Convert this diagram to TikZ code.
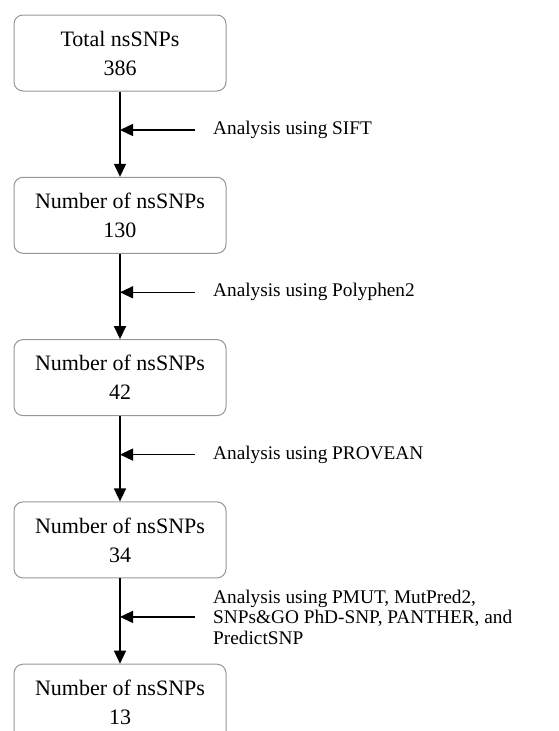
\documentclass[tikz,border=0pt]{standalone}
\usepackage{fontspec}
\setmainfont{Liberation Serif}
\usetikzlibrary{arrows.meta}
\definecolor{boxgray}{RGB}{150,150,150}
\newcommand{\stagegap}{162.3}
\newcommand{\toolgap}{77}
\newcommand{\tooloffset}{93}
\tikzset{
    stage/.style={draw=boxgray, line width=1pt, rounded corners=9pt, minimum width=212pt, minimum height=76pt, align=center, font=\fontsize{22}{29}\selectfont},
    tool/.style={anchor=west, inner sep=0pt, align=left, font=\fontsize{19.3}{20.5}\selectfont},
    flow/.style={-{Triangle[length=13pt, width=12pt]}, line width=1.4pt},
    hint/.style={flow, shorten <=18pt}
}

\begin{document}
\begin{tikzpicture}[x=1pt, y=-1pt]
    \useasboundingbox (0,0) rectangle (558,731);
    \clip (0,0) rectangle (558,731);

    \path
        (120,53) node[stage] (total) {Total nsSNPs\\386}
        to ++(0,\stagegap) node[stage] (n130) {Number of nsSNPs\\130}
        to ++(0,\stagegap) node[stage] (n42) {Number of nsSNPs\\42}
        to ++(0,\stagegap) node[stage] (n34) {Number of nsSNPs\\34}
        to ++(0,\stagegap) node[stage] (n13) {Number of nsSNPs\\13};

    \path (total) ++(\tooloffset,\toolgap) node[tool] (sift) {Analysis using SIFT};
    \path (n130) ++(\tooloffset,\toolgap) node[tool] (polyphen) {Analysis using Polyphen2};
    \path (n42) ++(\tooloffset,\toolgap) node[tool] (provean) {Analysis using PROVEAN};
    \path (n34) ++(\tooloffset,\toolgap) node[tool] (pmut) {Analysis using PMUT, MutPred2,\\SNPs\&GO PhD-SNP, PANTHER, and\\PredictSNP};

    \draw[flow] (total) -- (n130);
    \draw[flow] (n130) -- (n42);
    \draw[flow] (n42) -- (n34);
    \draw[flow] (n34) -- (n13);

    \draw[hint] (sift.west) -- (sift.west -| total.south);
    \draw[hint] (polyphen.west) -- (polyphen.west -| n130.south);
    \draw[hint] (provean.west) -- (provean.west -| n42.south);
    \draw[hint] (pmut.west) -- (pmut.west -| n34.south);
\end{tikzpicture}
\end{document}
